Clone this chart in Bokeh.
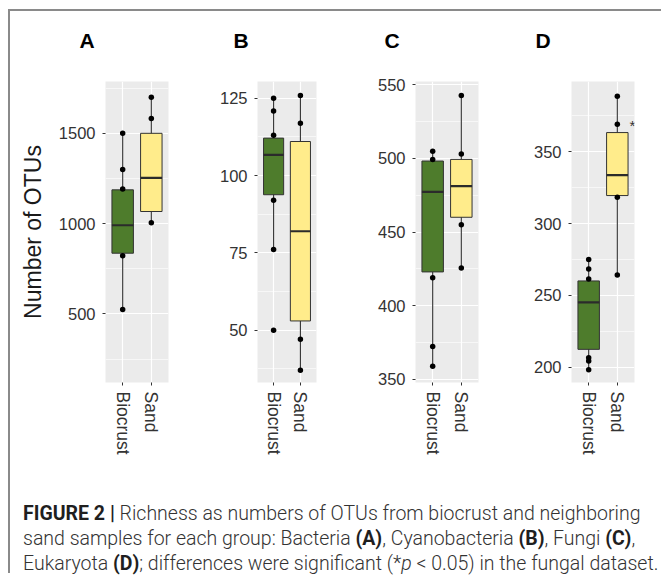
import numpy as np
from bokeh.plotting import figure
from bokeh.models import Range1d, FixedTicker, Label, Div
from bokeh.layouts import row, column
from bokeh.embed import file_html
from bokeh.resources import INLINE

# ---------------- data ----------------
groups = ["Biocrust", "Sand"]
letters = ["A", "B", "C", "D"]
box_colors = ["#4E7C2C", "#FFEC8B"]

# Panel A: Bacteria
A_lower = [524, 1005]
A_q1 = [836, 1067]
A_median = [991, 1253]
A_q3 = [1187, 1500]
A_upper = [1500, 1700]
A_bio_points = [1500, 1300, 1191, 822, 524]
A_sand_points = [1700, 1582, 1005]
A_yticks = [500, 1000, 1500]
A_yminor = [250, 750, 1250, 1750]

# Panel B: Cyanobacteria
B_lower = [76, 37.1]
B_q1 = [93.8, 53]
B_median = [106.7, 82]
B_q3 = [112.1, 111]
B_upper = [125, 125.9]
B_bio_points = [125, 120.9, 113, 92, 76.1, 50]
B_sand_points = [125.9, 116.9, 47.1, 37.1]
B_yticks = [50, 75, 100, 125]
B_yminor = [37.5, 62.5, 87.5, 112.5]

# Panel C: Fungi
C_lower = [358.9, 425.6]
C_q1 = [422.9, 460]
C_median = [477.3, 481.1]
C_q3 = [498.2, 499.3]
C_upper = [504.9, 542.7]
C_bio_points = [504.9, 499.3, 418.9, 372.2, 358.9]
C_sand_points = [542.7, 502.9, 454.9, 425.6]
C_yticks = [350, 400, 450, 500, 550]
C_yminor = [375, 425, 475, 525]

# Panel D: Eukaryota
D_lower = [198, 264.2]
D_q1 = [212.3, 319.5]
D_median = [245, 333.8]
D_q3 = [260, 363.4]
D_upper = [275, 388.8]
D_bio_points = [275, 268.3, 261.4, 206.5, 204.2, 198]
D_sand_points = [388.8, 369.2, 318.4, 264.2]
D_yticks = [200, 250, 300, 350]
D_yminor = [225, 275, 325, 375]

BOLD = '<b style="font-weight:700;color:#1f1f1f">'
caption_html = (
    BOLD + 'FIGURE 2 |</b> Richness as numbers of OTUs from biocrust and neighboring<br>'
    'sand samples for each group: Bacteria ' + BOLD + '(A)</b>, '
    'Cyanobacteria ' + BOLD + '(B)</b>, Fungi ' + BOLD + '(C)</b>,<br>'
    'Eukaryota ' + BOLD + '(D)</b>; differences were significant (*<i>p</i> &lt; 0.05) in the fungal dataset.'
)

H = 430
FONT = "Liberation Sans"
XLO, XHI = 0.4, 2.6
BOX_W = 0.75


def make_panel(yrange, yticks, yminor, lower, q1, med, q3, upper,
               bio_pts, sand_pts, width, left, right, top, bottom,
               ylabel=None, star=None):
    ylo, yhi = yrange
    p = figure(width=width, height=H, x_range=Range1d(XLO, XHI),
               y_range=Range1d(ylo, yhi), output_backend="svg",
               toolbar_location=None, title=None, min_border_left=left,
               min_border_right=right, min_border_top=top,
               min_border_bottom=bottom)
    p.background_fill_color = "#EBEBEB"
    p.border_fill_color = "white"
    p.outline_line_color = None

    xs = [1, 2]
    p.segment(x0=xs, y0=lower, x1=xs, y1=upper, line_color="#333333", line_width=1.1)
    p.vbar(x=xs, width=BOX_W, bottom=q1, top=q3, fill_color=box_colors,
           line_color="#333333", line_width=1)
    xa = np.array(xs, dtype=float)
    p.segment(x0=xa - BOX_W / 2, y0=med, x1=xa + BOX_W / 2, y1=med,
              line_color="#2b2b2b", line_width=2.2)
    px = [1] * len(bio_pts) + [2] * len(sand_pts)
    py = list(bio_pts) + list(sand_pts)
    p.scatter(x=px, y=py, size=5.5, fill_color="black", line_color=None)

    p.xaxis.ticker = FixedTicker(ticks=xs)
    p.xaxis.major_label_overrides = {1: groups[0], 2: groups[1]}
    p.xaxis.major_label_orientation = -np.pi / 2
    p.yaxis.ticker = FixedTicker(ticks=yticks, minor_ticks=yminor)
    for ax in (p.xaxis[0], p.yaxis[0]):
        ax.axis_line_color = None
        ax.major_tick_line_color = "#333333"
        ax.major_tick_out = 3
        ax.major_tick_in = 0
        ax.minor_tick_line_color = None
        ax.major_label_text_font = FONT
        ax.major_label_text_color = "#333333"
        ax.major_label_standoff = 6
    p.yaxis.major_label_text_font_size = "16.5px"
    p.xaxis.major_label_text_font_size = "17.5px"
    if ylabel:
        p.yaxis.axis_label = ylabel
        p.yaxis.axis_label_text_font = FONT
        p.yaxis.axis_label_text_font_size = "23px"
        p.yaxis.axis_label_text_font_style = "normal"
        p.yaxis.axis_label_text_color = "#1a1a1a"
        p.yaxis.axis_label_standoff = 10

    p.xgrid.grid_line_color = "white"
    p.xgrid.grid_line_width = 1.2
    p.ygrid.grid_line_color = "white"
    p.ygrid.grid_line_width = 1.2
    p.ygrid.minor_grid_line_color = "white"
    p.ygrid.minor_grid_line_width = 0.6

    if star is not None:
        p.add_layout(Label(x=star[0], y=star[1], text="*", text_align="center",
                           text_baseline="middle", text_font=FONT,
                           text_font_size="15px", text_color="#333333"))
    return p


pA = make_panel((120, 1787), A_yticks, A_yminor, A_lower, A_q1, A_median,
                A_q3, A_upper, A_bio_points, A_sand_points,
                width=190, left=95, right=32, top=20, bottom=106,
                ylabel="Number of OTUs")
pB = make_panel((33.1, 130.4), B_yticks, B_yminor, B_lower, B_q1, B_median,
                B_q3, B_upper, B_bio_points, B_sand_points,
                width=160, left=57, right=44, top=19, bottom=109)
pC = make_panel((347.8, 552.2), C_yticks, C_yminor, C_lower, C_q1, C_median,
                C_q3, C_upper, C_bio_points, C_sand_points,
                width=155, left=55, right=37, top=19, bottom=104)
pD = make_panel((189.2, 399), D_yticks, D_yminor, D_lower, D_q1, D_median,
                D_q3, D_upper, D_bio_points, D_sand_points,
                width=146, left=56, right=27, top=19, bottom=108,
                star=(2.53, 368))

# panel letters (centres measured from the content's left edge)
letter_centres = [77, 231, 382, 533]
spans = "".join(
    '<span style="position:absolute;left:%dpx;top:19px;transform:translateX(-50%%);'
    'font-family:\'Liberation Sans\',Arial,sans-serif;font-weight:700;font-size:21px;'
    'line-height:21px;color:#000">%s</span>' % (c, t)
    for c, t in zip(letter_centres, letters))
titles = Div(text='<div style="position:relative;width:651px;height:50px">' + spans + '</div>',
             width=651, height=50, margin=0)

caption = Div(text=caption_html, width=651, height=72, margin=(10, 0, 0, 0),
              styles={"font-family": "Roboto, 'Liberation Sans', sans-serif",
                      "font-weight": "300", "font-size": "19.5px",
                      "line-height": "25px", "color": "#333333",
                      "padding-left": "13px",
                      "white-space": "nowrap"})

layout = column(titles, row(pA, pB, pC, pD), caption,
                styles={"margin-left": "8px", "margin-top": "9px",
                        "border-top": "2px solid #8a8a8a",
                        "border-left": "2px solid #8a8a8a"})

open("out.html", "w").write(file_html(layout, INLINE))
